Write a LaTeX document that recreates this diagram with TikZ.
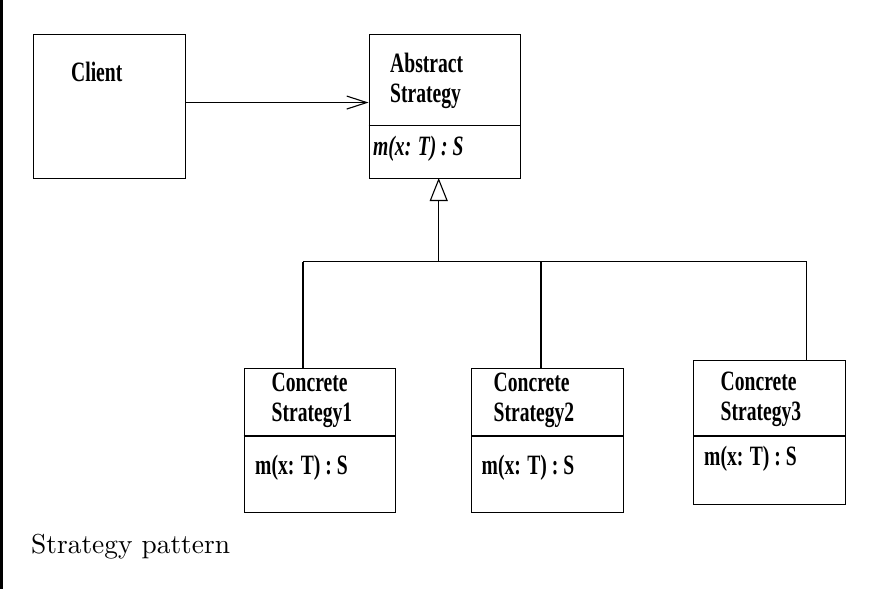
\documentclass[tikz,border=0pt]{standalone}
\usepackage{fontspec}
\newfontfamily\umlfont[FakeStretch=0.7]{Liberation Serif}
\usetikzlibrary{arrows.meta}
\begin{document}
\begin{tikzpicture}[x=1pt,y=-1pt,
  box/.style={draw,line width=1.1pt,rectangle,inner sep=0pt,anchor=north west,minimum width=151.5pt},
  lbl/.style={anchor=base west,inner sep=0pt,font=\umlfont\bfseries\fontsize{28}{30}\selectfont},
  ilbl/.style={lbl,font=\umlfont\bfseries\itshape\fontsize{28}{30}\selectfont},
  conn/.style={line width=1.1pt},
]
\useasboundingbox (0,0) rectangle (870,589);
\fill[black] (0,0) rectangle (2.5,589);
% boxes
\node[box,minimum height=144pt] (client) at (33,34) {};
\node[box,minimum height=144pt] (abs) at (368.5,34) {};
\node[box,minimum height=144pt] (c1) at (243.5,368) {};
\node[box,minimum height=144pt] (c2) at (471,368) {};
\node[box,minimum height=144pt] (c3) at (693,360) {};
% dividers
\draw[conn] (368.5,125.5) -- (520,125.5);
\draw[conn] (243.5,436) -- (395,436);
\draw[conn] (471,436) -- (622.5,436);
\draw[conn] (693,436) -- (844.5,436);
% texts
\node[lbl] (tclient) at (71,81) {Client};
\node[lbl] (tabs1) at (390,72) {Abstract};
\node[lbl] (tabs2) at (390,102) {Strategy};
\node[ilbl] (tabsm) at (373,155) {m(x: T) : S};
\node[lbl] (tc1a) at (271.5,391) {Concrete};
\node[lbl] (tc1b) at (271.5,421) {Strategy1};
\node[lbl] (tc1m) at (255,474) {m(x: T) : S};
\node[lbl] (tc2a) at (493.5,391) {Concrete};
\node[lbl] (tc2b) at (493.5,421) {Strategy2};
\node[lbl] (tc2m) at (481.5,474) {m(x: T) : S};
\node[lbl] (tc3a) at (720.5,390) {Concrete};
\node[lbl] (tc3b) at (720.5,420) {Strategy3};
\node[lbl] (tc3m) at (704,465) {m(x: T) : S};
% association
\draw[conn,-{Straight Barb[length=20pt,width=13pt,line width=1.1pt]}] ([yshift=4pt]client.east) -- ([yshift=4pt]abs.west);
% generalization
\coordinate (bus) at (438.7,261.5);
\coordinate (tip) at (438.7,178);
\coordinate (d1) at (303,261.5);
\coordinate (d2) at (541,261.5);
\coordinate (d3) at (806.5,261.5);
\draw[conn,-{Triangle[open,length=23pt,width=18pt,line width=1.1pt]}] (bus) -- (tip);
\draw[conn] (d1) -- (d3);
\draw[conn] (d1) -- (d1 |- c1.north);
\draw[conn] (d2) -- (d2 |- c2.north);
\draw[conn] (d3) -- (d3 |- c3.north);
% caption
\node[anchor=base west,inner sep=0pt] (cap) at (31,553) {\scalebox{2.74}{\fontsize{10}{12}\selectfont Strategy pattern}};
\end{tikzpicture}
\end{document}
